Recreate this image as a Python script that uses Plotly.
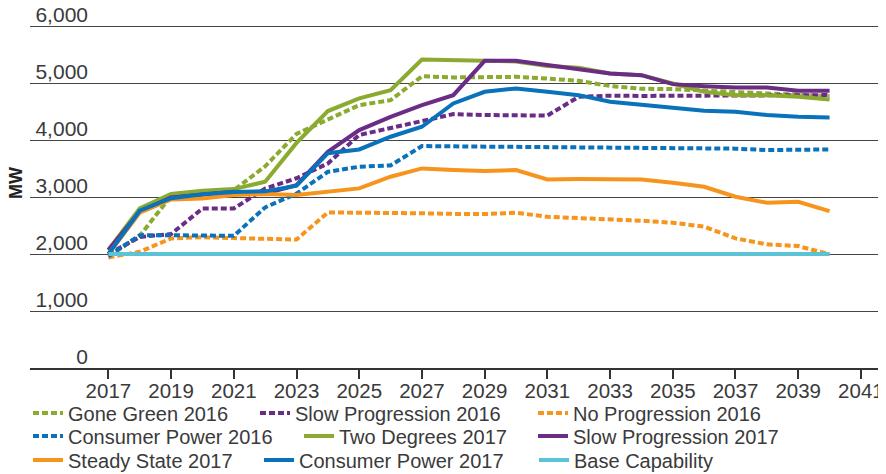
import plotly.graph_objects as go

years = list(range(2017, 2041))

gone_green_2016 = [1960, 2320, 3020, 3090, 3120, 3540, 4110, 4370, 4614, 4700, 5120, 5100,
                   5100, 5110, 5080, 5040, 4950, 4900, 4895, 4865, 4836, 4818, 4800, 4772]
slow_prog_2016 = [2000, 2300, 2350, 2800, 2800, 3150, 3330, 3590, 4090, 4215, 4340, 4456,
                  4440, 4440, 4430, 4760, 4780, 4775, 4775, 4775, 4775, 4780, 4785, 4790]
no_prog_2016 = [1940, 2040, 2275, 2295, 2280, 2265, 2255, 2730, 2730, 2730, 2715, 2705,
                2702, 2725, 2655, 2630, 2614, 2585, 2550, 2480, 2275, 2170, 2140, 1995]
consumer_power_2016 = [1960, 2330, 2330, 2330, 2320, 2820, 3060, 3444, 3532, 3555, 3895, 3890,
                       3885, 3880, 3875, 3870, 3860, 3860, 3860, 3855, 3850, 3825, 3830, 3836]
two_degrees_2017 = [2070, 2800, 3053, 3111, 3140, 3270, 3950, 4510, 4731, 4877, 5415, 5404,
                    5392, 5380, 5300, 5270, 5170, 5140, 4994, 4848, 4789, 4789, 4760, 4713]
slow_prog_2017 = [2070, 2743, 2994, 3035, 3093, 3064, 3210, 3795, 4175, 4409, 4614, 4789,
                  5392, 5392, 5320, 5235, 5170, 5140, 4982, 4947, 4924, 4924, 4865, 4865]
steady_state_2017 = [2000, 2725, 2959, 2977, 3035, 3053, 3035, 3100, 3152, 3357, 3503, 3474,
                     3456, 3474, 3310, 3315, 3310, 3310, 3251, 3181, 3006, 2901, 2918, 2754]
consumer_power_2017 = [2000, 2760, 2980, 3050, 3090, 3100, 3200, 3770, 3836, 4059, 4234, 4643,
                       4848, 4906, 4848, 4789, 4672, 4614, 4556, 4515, 4497, 4439, 4409, 4398]
base_capability = [2000] * 24

y_tick_vals = [0, 1000, 2000, 3000, 4000, 5000, 6000]
x_tick_vals = list(range(2017, 2042, 2))

GREEN = "#8BAA30"
PURPLE = "#6B2C86"
ORANGE = "#F7941D"
BLUE = "#0A72BA"
CYAN = "#5BC3D5"

FONT = "Liberation Sans, Arial, sans-serif"
TXT = "#3a3a3a"

series = [
    ("Gone Green 2016", gone_green_2016, GREEN, True, "legend", 20, 0),
    ("Slow Progression 2016", slow_prog_2016, PURPLE, True, "legend2", 247, 0),
    ("No Progression 2016", no_prog_2016, ORANGE, True, "legend3", 525, 0),
    ("Consumer Power 2016", consumer_power_2016, BLUE, True, "legend4", 20, 1),
    ("Two Degrees 2017", two_degrees_2017, GREEN, False, "legend5", 291, 1),
    ("Slow Progression 2017", slow_prog_2017, PURPLE, False, "legend6", 525, 1),
    ("Steady State 2017", steady_state_2017, ORANGE, False, "legend7", 20, 2),
    ("Consumer Power 2017", consumer_power_2017, BLUE, False, "legend8", 251, 2),
    ("Base Capability", base_capability, CYAN, False, "legend9", 526, 2),
]

fig = go.Figure()
for name, vals, color, dotted, leg, lx, row in series:
    fig.add_trace(go.Scatter(
        x=years, y=vals, name=name, mode="lines", legend=leg,
        # the last series is drawn on the secondary (label) axis, same scale
        yaxis="y2" if name == "Base Capability" else "y",
        line=dict(color=color, width=4, dash="6px,3px" if dotted else "solid"),
        hoverinfo="x+y+name",
    ))

# layout geometry (page has an 8px body margin, so the figure is 8px smaller)
W, H = 878, 466
ml, mr, mt, mb = 22, 0, 17, 106
pw = W - ml - mr
ph = H - mt - mb
Y_RANGE = [0, 6020]

row_center_y = [405, 428, 452]

legends = {}
for name, vals, color, dotted, leg, lx, row in series:
    legends[leg] = dict(
        xref="container", yref="container",
        x=lx / W, xanchor="left",
        y=(H - row_center_y[row]) / H, yanchor="middle",
        orientation="v", bgcolor="rgba(0,0,0,0)", borderwidth=0,
        font=dict(family=FONT, size=20, color=TXT),
        itemwidth=30,
    )

fig.update_layout(
    width=W, height=H,
    margin=dict(l=ml, r=mr, t=mt, b=mb, autoexpand=False),
    paper_bgcolor="white", plot_bgcolor="white",
    showlegend=True,
    font=dict(family=FONT, color=TXT),
    xaxis=dict(
        range=[2014.5, 2041.8], tickmode="array", tickvals=x_tick_vals,
        ticks="outside", ticklen=9, tickwidth=2, tickcolor="#333",
        showline=True, linecolor="#333", linewidth=2,
        showgrid=False, zeroline=False, automargin=False,
        ticklabelstandoff=-6,
        tickfont=dict(family=FONT, size=20.5, color=TXT),
    ),
    yaxis=dict(
        range=Y_RANGE, tickmode="array", tickvals=y_tick_vals,
        showticklabels=False, showgrid=True, gridcolor="#444", gridwidth=1,
        zeroline=False, showline=False, ticks="", automargin=False,
    ),
    yaxis2=dict(
        overlaying="y", anchor="free", position=58 / pw, side="left",
        range=Y_RANGE, tickmode="array", tickvals=y_tick_vals, tickformat=",",
        showgrid=False, zeroline=False, showline=False, ticks="",
        ticklabelshift=-11, ticklabeloverflow="allow", automargin=False,
        tickfont=dict(family=FONT, size=21, color=TXT),
    ),
    annotations=[dict(
        text="<b>MW</b>", textangle=-90, xref="paper", yref="paper",
        x=(8 - ml) / pw, y=(H - mb - 175) / ph, showarrow=False,
        font=dict(family=FONT, size=18, color="#222"),
        xanchor="center", yanchor="middle",
    )],
    **legends,
)

fig.write_html("out.html")
